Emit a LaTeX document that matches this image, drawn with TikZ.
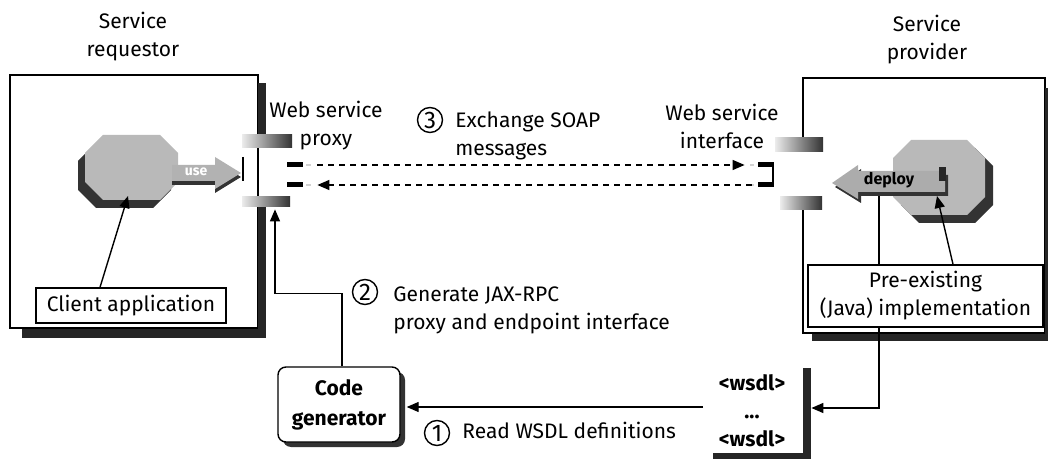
\documentclass[tikz,border=0pt]{standalone}
\usepackage{fontspec}
\setmainfont{Fira Sans}
\usetikzlibrary{arrows.meta,calc}

\begin{document}
\begin{tikzpicture}[x=0.5pt,y=-0.5pt,
  txt/.style={font=\fontsize{10.5}{14}\selectfont, inner sep=0pt, align=center},
  boldtxt/.style={font=\fontsize{10.5}{15}\selectfont\bfseries, inner sep=0pt, align=center},
  frame/.style={draw=black, line width=0.7pt},
  shadowbar/.style={fill=black!85, draw=none},
  band/.style={draw=none, left color=gray!15, right color=black!80, inner sep=0pt},
  octbody/.style={fill=gray!55, draw=none},
  octshadow/.style={fill=black!80, draw=none},
  labelbox/.style={draw=black, line width=0.7pt, fill=white, inner sep=0pt},
  arr/.style={draw=black, line width=0.7pt, -{Triangle[length=6pt,width=5pt]}},
  dasharr/.style={draw=black, line width=0.7pt, dash pattern=on 3pt off 2.5pt, -{Triangle[length=6pt,width=5pt]}},
  stepnum/.style={circle, draw=black, line width=0.7pt, minimum size=12.5pt, inner sep=0pt, font=\fontsize{12}{12}\selectfont},
  bar/.style={fill=black, draw=none, inner sep=0pt, minimum width=8pt, minimum height=2.5pt},
]
\useasboundingbox (0,0) rectangle (1048,459);

% ---------- titles ----------
\node[txt] (reqtitle) at (133,37) {Service\\requestor};
\node[txt] (provtitle) at (927,40) {Service\\provider};

% ---------- requestor container ----------
\draw[frame] (10,75) rectangle (258,328);
\fill[shadowbar] (258,83) rectangle (266,135);
\fill[shadowbar] (258,207) rectangle (266,338);
\fill[shadowbar] (22,329) rectangle (266,338);

% proxy socket
\node[band, minimum width=25pt, minimum height=6.5pt] (ptop) at (267,141.5) {};
\node[band, minimum width=24pt, minimum height=5pt] (pbot) at (266,202) {};
\draw[frame] (243,157) -- (243,181);

% client component (octagon with shadow to the lower left)
\coordinate (coct) at (131,167);
\fill[octshadow] (96,143) -- (153,143) -- (171,161) -- (171,190) -- (153,208) -- (96,208) -- (78,190) -- (78,161) -- cycle;
\fill[octbody] (103,135) -- (160,135) -- (178,153) -- (178,182) -- (160,200) -- (103,200) -- (85,182) -- (85,153) -- cycle;
\fill[black!80] (172,169) -- (215,169) -- (215,161) -- (241,177) -- (215,193) -- (215,185) -- (172,185) -- cycle;
\fill[gray!60] (172,165) -- (215,165) -- (215,157) -- (241,173) -- (215,189) -- (215,181) -- (172,181) -- cycle;
\node[font=\fontsize{7}{8}\selectfont\bfseries, text=white, inner sep=0pt] (uselbl) at (196,172) {use};

\node[labelbox, txt, minimum width=95pt, minimum height=17.5pt] (client) at (131,305.5) {Client application};

% ---------- provider container ----------
\draw[frame] (803,78) rectangle (1045,333);
\fill[shadowbar] (1045,88) rectangle (1048,341);
\fill[shadowbar] (812,334) rectangle (1048,341);
\fill[white] (790,152) rectangle (823,197);

% interface socket
\node[band, minimum width=24pt, minimum height=7pt] (itop) at (799,145) {};
\node[band, minimum width=21pt, minimum height=6.5pt] (ibot) at (801,203.5) {};

% deployment line down to the WSDL document
\coordinate (deployfoot) at (879,191);
\node[fill=black!85, inner sep=0pt, minimum width=4pt, minimum height=45.5pt] (wsdlbar) at (807,413.5) {};
\fill[shadowbar] (713,453) rectangle (811,459);
\draw[arr] (deployfoot) |- ([yshift=2.75pt]wsdlbar.east);

% provider component (octagon with shadow to the lower right)
\coordinate (poct) at (939,177);
\fill[octshadow] (919,148) -- (975,148) -- (993,166) -- (993,205) -- (975,223) -- (919,223) -- (901,205) -- (901,166) -- cycle;
\fill[octbody] (911,140) -- (967,140) -- (985,158) -- (985,197) -- (967,215) -- (911,215) -- (893,197) -- (893,158) -- cycle;
\fill[black!80] (948,175) -- (861,175) -- (861,169) -- (835,187) -- (861,203) -- (861,196) -- (948,196) -- cycle;
\fill[gray!65] (945,171) -- (858,171) -- (858,165) -- (832,183) -- (858,199) -- (858,192) -- (945,192) -- cycle;
\fill[black!85] (939,167) rectangle (946,181);
\node[font=\fontsize{8}{8}\selectfont\bfseries, text=black, inner sep=0pt] (deploylbl) at (889,180) {deploy};

\node[labelbox, txt, minimum width=117.5pt, minimum height=31pt] (pre) at (925.5,296) {Pre-existing\\(Java) implementation};

% ---------- code generator and WSDL ----------
\fill[octshadow, rounded corners=4pt] (283,372) rectangle (405,447);
\node[labelbox, boldtxt, rounded corners=4pt, minimum width=61pt, minimum height=37.5pt] (gen) at (339,404.5) {Code\\generator};
\node[boldtxt, font=\fontsize{10.5}{14}\selectfont\bfseries] (wsdl) at (752,411) {<wsdl>\\...\\<wsdl>};

% ---------- labels ----------
\node[txt] (proxylbl) at (326,126) {Web service\\proxy};
\node[txt] (ifacelbl) at (722,126) {Web service\\interface};

\node[stepnum] (s3) at (430,120) {3};
\node[txt, anchor=west, align=left] (s3txt) at (455,136) {Exchange SOAP\\messages};
\node[stepnum] (s2) at (365,292) {2};
\node[txt, anchor=west, align=left] (s2txt) at (393,310) {Generate JAX-RPC\\proxy and endpoint interface};
\node[stepnum] (s1) at (437,433) {1};
\node[txt, anchor=base west] (s1txt) at (462,438) {Read WSDL definitions};

% ---------- SOAP message ends ----------
\node[bar] (pb1) at (295,165) {};
\node[bar] (pb2) at (295,185) {};
\fill[gray!35] (306,164) rectangle (311,166);
\fill[gray!35] (306,184) rectangle (311,186);
\node[bar] (ib1) at (766,165) {};
\node[bar] (ib2) at (766,185) {};
\draw[line width=1.2pt] ([xshift=-0.6pt]ib1.east) -- ([xshift=-0.6pt]ib2.east);
\fill[gray!35] (750,164) rectangle (754,166);
\fill[gray!35] (750,184) rectangle (754,186);

% ---------- connectors ----------
\draw[dasharr] ([xshift=7pt]pb1.east) -- ([xshift=-6.5pt]ib1.west);
\draw[dasharr] ([xshift=-3pt]ib2.west) -- ([xshift=7pt]pb2.east);

\draw[arr] ([xshift=-15.5pt]client.north) -- ($(coct)+(-3,29)$);
\draw[arr] ([xshift=13.75pt]pre.north) -- ($(poct)+(-2,19)$);
\draw[arr] ([xshift=1.5pt]gen.north) -- ++(0,-73) -| ([xshift=4.5pt,yshift=-1pt]pbot.south);
\coordinate (readstart) at (703,407);
\draw[arr] (readstart) -- ([xshift=3pt]gen.east |- readstart);
\end{tikzpicture}
\end{document}
